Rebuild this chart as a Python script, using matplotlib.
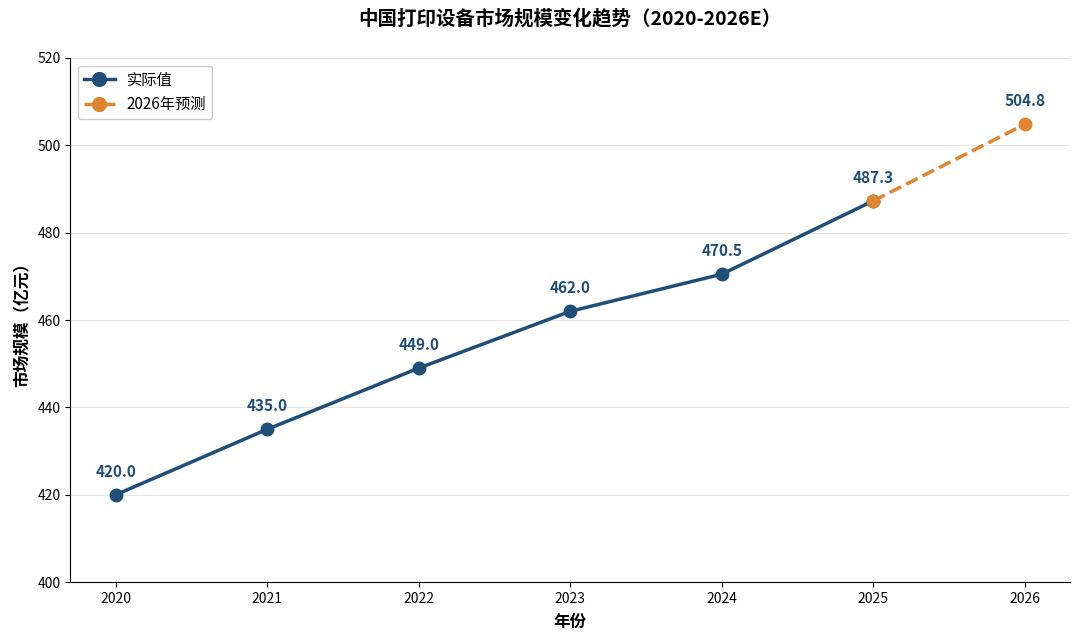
import matplotlib
matplotlib.use('Agg')
import matplotlib.pyplot as plt

plt.rcParams['font.family'] = ['Noto Sans CJK SC', 'DejaVu Sans']
plt.rcParams['axes.unicode_minus'] = False

years_actual = [2020, 2021, 2022, 2023, 2024, 2025]
values_actual = [420.0, 435.0, 449.0, 462.0, 470.5, 487.3]
years_forecast = [2025, 2026]
values_forecast = [487.3, 504.8]

BLUE = '#1f4e79'
ORANGE = '#dd8530'

fig = plt.figure(figsize=(10.8, 6.44), dpi=100)
ax = fig.add_axes([0.065, 0.096, 0.926, 0.814])

ax.plot(years_actual, values_actual, color=BLUE, linewidth=2.5, marker='o',
        markersize=9, label='实际值', zorder=3)
ax.plot(years_forecast, values_forecast, color=ORANGE, linewidth=2.5, linestyle='--',
        marker='o', markersize=9, label='2026年预测', zorder=4)

for x, y in zip(years_actual + years_forecast[1:], values_actual + values_forecast[1:]):
    ax.annotate(f'{y:.1f}', (x, y), xytext=(0, 11), textcoords='offset points',
                ha='center', va='bottom', fontsize=11, fontweight='bold', color=BLUE)

ax.set_xlim(2019.7, 2026.3)
ax.set_ylim(400, 520)
ax.set_xticks(range(2020, 2027))
ax.set_yticks(range(400, 521, 20))
ax.tick_params(labelsize=10)
ax.grid(axis='y', color='#e6e6e6', linewidth=0.8)
ax.set_axisbelow(True)
for s in ['top', 'right']:
    ax.spines[s].set_visible(False)

ax.set_xlabel('年份', fontsize=12, fontweight='bold', labelpad=5)
ax.set_ylabel('市场规模（亿元）', fontsize=12, fontweight='bold')
ax.set_title('中国打印设备市场规模变化趋势（2020-2026E）', fontsize=14,
             fontweight='bold', pad=24)

ax.legend(loc='upper left', fontsize=11, framealpha=1, edgecolor='#cccccc',
          markerscale=1.1)

fig.savefig('out.png', dpi=100)
